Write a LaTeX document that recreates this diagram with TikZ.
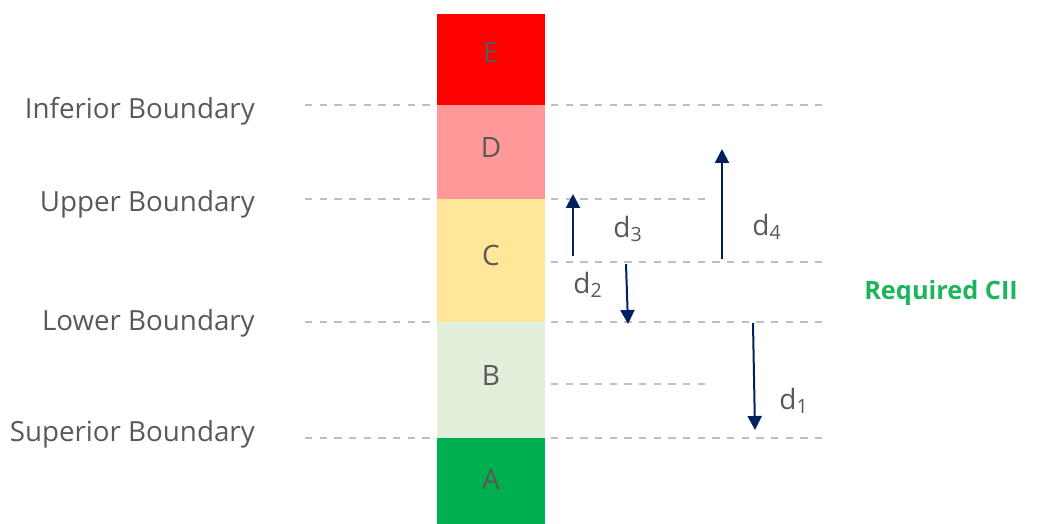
\documentclass[tikz,border=0pt]{standalone}
\usepackage{fontspec}
\setmainfont{Open Sans}
\usetikzlibrary{arrows.meta}
\definecolor{txtgray}{HTML}{595959}
\definecolor{lvlE}{HTML}{FF0000}
\definecolor{lvlD}{HTML}{FF9999}
\definecolor{lvlC}{HTML}{FFE699}
\definecolor{lvlB}{HTML}{E2EFDA}
\definecolor{lvlA}{HTML}{00B050}
\definecolor{navy}{HTML}{002060}
\definecolor{cii}{HTML}{1BB55C}
\definecolor{guide}{HTML}{BFBFBF}
\tikzset{
  band/.style={text=txtgray, font=\fontsize{21}{24}\selectfont},
  bnd/.style={anchor=east, text=txtgray, font=\fontsize{20.8}{24}\selectfont, inner sep=0pt},
  guideline/.style={draw=guide, line width=1.1pt, dash pattern=on 5.5pt off 5.5pt},
  dist/.style={draw=navy, line width=1.5pt, -{Triangle[width=10.5pt,length=10.5pt]}},
  dlabel/.style={text=txtgray, font=\fontsize{21}{24}\selectfont, inner sep=0pt},
}
\begin{document}
\begin{tikzpicture}[x=0.75pt, y=-0.75pt]
\useasboundingbox (0,0) rectangle (1047,524);
% colour bands
\path[fill=lvlE] (437,14) rectangle (545,105);
\path[fill=lvlD] (437,105) rectangle (545,199);
\path[fill=lvlC] (437,199) rectangle (545,322);
\path[fill=lvlB] (437,322) rectangle (545,438);
\path[fill=lvlA] (437,438) rectangle (545,524);
\node[band] (E) at (491,53) {E};
\node[band] (D) at (491,148) {D};
\node[band] (C) at (491,255) {C};
\node[band] (B) at (491,376) {B};
\node[band] (A) at (491,479) {A};
% boundary labels
\node[bnd] (inf) at (255,111) {Inferior Boundary};
\node[bnd] (upp) at (255,204) {Upper Boundary};
\node[bnd] (low) at (255,323) {Lower Boundary};
\node[bnd] (sup) at (255,434) {Superior Boundary};
% dashed guides
\draw[guideline] (305,105) -- (437,105);
\draw[guideline] (551,105) -- (822,105);
\draw[guideline] (305,199) -- (437,199);
\draw[guideline] (551,199) -- (712,199);
\draw[guideline] (551,262) -- (822,262);
\draw[guideline] (305,322) -- (437,322);
\draw[guideline] (551,322) -- (822,322);
\draw[guideline] (551,384) -- (712,384);
\draw[guideline] (305,438) -- (437,438);
\draw[guideline] (551,438) -- (822,438);
% required level
\node[text=cii, font=\bfseries\fontsize{19}{22}\selectfont, anchor=west, inner sep=0pt] (req) at (864,293) {Required CII};
% distance arrows
\coordinate (d3s) at (573,256);
\coordinate (d3e) at (573,194);
\coordinate (d4s) at (722,259);
\coordinate (d4e) at (722,149);
\coordinate (d2s) at (626,264);
\coordinate (d2e) at (628,324);
\coordinate (d1s) at (753,323);
\coordinate (d1e) at (755,430);
\draw[dist] (d3s) -- (d3e);
\draw[dist] (d4s) -- (d4e);
\draw[dist] (d2s) -- (d2e);
\draw[dist] (d1s) -- (d1e);
\node[dlabel] (l3) at (628,229) {d\textsubscript{3}};
\node[dlabel] (l4) at (767,227) {d\textsubscript{4}};
\node[dlabel] (l2) at (588,285) {d\textsubscript{2}};
\node[dlabel] (l1) at (794,401) {d\textsubscript{1}};
\end{tikzpicture}
\end{document}
